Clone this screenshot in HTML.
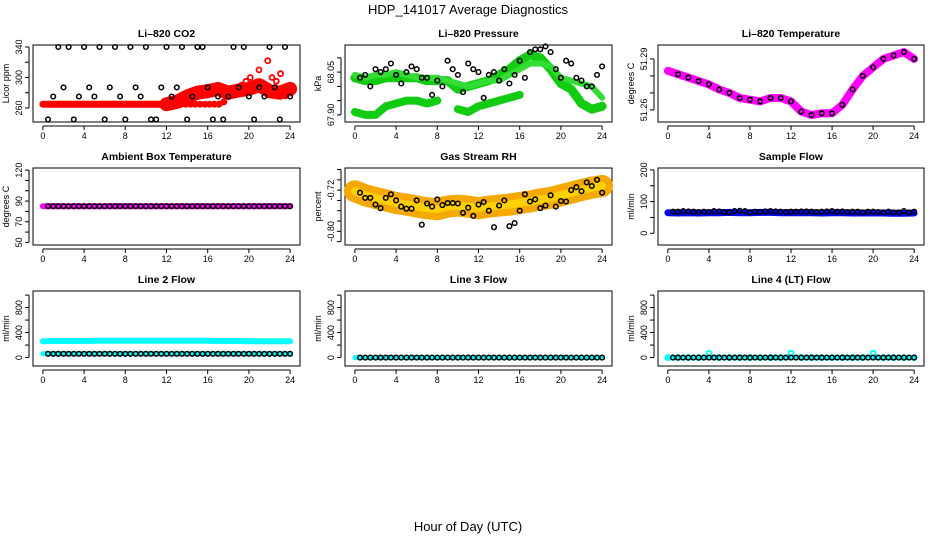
<!DOCTYPE html>
<html><head><meta charset="utf-8"><style>
body{margin:0;background:#fff}
svg{display:block;font-family:"Liberation Sans",sans-serif}
</style></head><body>
<svg id="c" width="936" height="540" viewBox="0 0 936 540"></svg>
<script>
const hours = [0,1,2,3,4,5,6,7,8,9,10,11,12,13,14,15,16,17,18,19,20,21,22,23,24];
const xTicks = [0,4,8,12,16,20,24];
// CO2
const co2Red = [265,265,265,265,265,265,265,265,265,265,265,265,265,268,275,280,282,285,280,283,285,290,282,280,285,278,276];
const co2RedHigh = [null,null,null,null,null,null,null,null,null,null,null,null,null,null,285,290,295,300,285,310,292,322,300,295,305,310,300];
const co2Black = [245,275,340,287,340,245,275,340,287,275,340,245,287,340,275,245,340,287,275,340,245,245,287,340,275,287,340,245,275,340,340,287,245,275,245,275,340,287,340,275,245,287,275,340,287,245,340,275];
// Pressure
const presA = [68.03,68.02,68.02,68.03,68.03,68.03,68.03,68.02,68.02,68.02,67.99,68.00,68.01,68.02,68.04,68.06,68.09,68.11,68.10,68.06,68.01,67.99,67.94,67.92,67.93];
const presB = [67.91,67.90,67.90,67.93,67.94,67.95,67.95,67.94,67.95,null,67.92,67.91,67.93,67.94,67.95,67.96,67.97,null,null,null,null,null,null,null,null];
const presC = [68.04,68.03,68.04,68.04,68.05,68.04,68.03,68.03,68.03,68.02,68.01,68.00,68.01,68.02,68.02,68.04,68.06,68.08,68.08,68.07,68.03,68.02,68.01,68.00,67.96];
const presBlack = [68.03,68.04,68.00,68.06,68.05,68.06,68.08,68.04,68.01,68.05,68.07,68.06,68.03,68.03,67.97,68.02,68.00,68.09,68.06,68.04,67.98,68.08,68.06,68.05,67.96,68.04,68.05,68.02,68.06,68.01,68.04,68.09,68.03,68.12,68.13,68.13,68.14,68.12,68.06,68.03,68.09,68.08,68.03,68.02,68.00,68.00,68.04,68.07];
// Temperature
const tempMag = [51.283,51.281,51.279,51.277,51.275,51.272,51.270,51.267,51.266,51.265,51.267,51.267,51.265,51.259,51.257,51.258,51.258,51.263,51.272,51.280,51.285,51.290,51.292,51.294,51.290];
// Ambient
const ambMag = [85,85,85,85,85,85,85,85,85,85,85,85,85,85,85,85,85,85,85,85,85,85,85,85,85];
// RH
const rhOrange = [-0.722,-0.730,-0.735,-0.740,-0.745,-0.748,-0.752,-0.755,-0.757,-0.752,-0.750,-0.752,-0.755,-0.752,-0.750,-0.748,-0.745,-0.742,-0.738,-0.735,-0.730,-0.725,-0.720,-0.715,-0.712];
const rhBlack = [-0.725,-0.735,-0.735,-0.748,-0.755,-0.735,-0.728,-0.740,-0.752,-0.756,-0.756,-0.740,-0.787,-0.746,-0.752,-0.738,-0.749,-0.745,-0.745,-0.746,-0.764,-0.754,-0.770,-0.748,-0.743,-0.760,-0.792,-0.750,-0.740,-0.790,-0.784,-0.760,-0.728,-0.742,-0.738,-0.755,-0.750,-0.730,-0.752,-0.741,-0.742,-0.720,-0.714,-0.722,-0.705,-0.712,-0.700,-0.725];
// Sample flow
const sampBlue = [65,64,65,64,65,65,66,65,65,66,66,65,65,65,65,64,65,65,64,64,64,64,63,63,64];
const sampBlack = [68,68,70,69,68,67,68,67,70,69,67,66,70,71,70,66,68,67,69,70,69,68,67,68,68,69,69,68,67,68,69,70,68,69,67,68,68,66,68,68,67,66,68,66,66,70,65,68];
// Flows
const l2Cyan = [260,265,265,265,265,268,268,268,268,268,268,268,268,268,268,268,268,265,265,265,262,262,262,262,262];
const l2Black = [60,60,60,60,60,60,60,60,60,60,60,60,60,60,60,60,60,60,60,60,60,60,60,60,60,60,60,60,60,60,60,60,60,60,60,60,60,60,60,60,60,60,60,60,60,60,60,60];
const l3Cyan = [0,0,0,0,0,0,0,0,0,0,0,0,0,0,0,0,0,0,0,0,0,0,0,0,0];
const l3Black = [0,0,0,0,0,0,0,0,0,0,0,0,0,0,0,0,0,0,0,0,0,0,0,0,0,0,0,0,0,0,0,0,0,0,0,0,0,0,0,0,0,0,0,0,0,0,0,0];
const l4Cyan = [0,0,0,0,70,0,0,0,0,0,0,0,70,0,0,0,0,0,0,0,70,0,0,0,0];
const l4Black = l3Black;

const NS="http://www.w3.org/2000/svg";
const svg=document.getElementById('c');
function mk(tag,attrs,parent){const e=document.createElementNS(NS,tag);for(const k in attrs)e.setAttribute(k,attrs[k]);(parent||svg).appendChild(e);return e;}
function txt(s,x,y,size,opts,parent){const t=mk('text',Object.assign({x:x,y:y,'font-size':size,'text-anchor':'middle',fill:'#000'},opts||{}),parent);t.textContent=s;return t;}
const blackX=[];for(let i=1;i<=48;i++)blackX.push(i*0.5);
const cols=[[33,300],[345,612],[658,924]];
const rows=[[45,122],[168,245],[291,366]];

function panel(c,r,name,title,ylab,ylim,ticks,labels){
  const g=mk('g',{});
  
  
  const [x0,x1]=cols[c],[y0,y1]=rows[r];
  const sx=h=>x0+(h+0.96)/25.92*(x1-x0);
  const sy=v=>y1-(v-ylim[0])/(ylim[1]-ylim[0])*(y1-y0);
  const t=txt(title,(x0+x1)/2,y0-8,10.5,{'font-weight':'bold'},g);
  
  
  const b=mk('rect',{x:x0,y:y0,width:x1-x0,height:y1-y0,fill:'none',stroke:'#000','stroke-width':1},g);
  
  
  const xa=mk('g',{},g);
  
  
  mk('line',{x1:sx(0),x2:sx(24),y1:y1+4,y2:y1+4,stroke:'#000'},xa);
  xTicks.forEach(h=>{mk('line',{x1:sx(h),x2:sx(h),y1:y1+4,y2:y1+8,stroke:'#000'},xa);txt(String(h),sx(h),y1+17,9,{},xa);});
  const ya=mk('g',{},g);
  
  
  mk('line',{x1:x0-4,x2:x0-4,y1:sy(ticks[0]),y2:sy(ticks[ticks.length-1]),stroke:'#000'},ya);
  ticks.forEach((v,i)=>{const y=sy(v);mk('line',{x1:x0-8,x2:x0-4,y1:y,y2:y,stroke:'#000'},ya);
    if(labels[i]){const tx=x0-11;txt(labels[i],tx,y,9,{transform:`rotate(-90 ${tx} ${y})`},ya);}});
  const yl=txt(ylab,x0-24,(y0+y1)/2,9,{transform:`rotate(-90 ${x0-24} ${(y0+y1)/2})`},g);
  
  
  return {g,sx,sy};
}
function band(p,name,xs,vals,color,w){
  let d='';let pen=false;
  vals.forEach((v,i)=>{if(v===null){pen=false;return;}d+=(pen?'L':'M')+p.sx(xs[i]).toFixed(1)+' '+p.sy(v).toFixed(1)+' ';pen=true;});
  const e=mk('path',{d:d,fill:'none',stroke:color,'stroke-width':w,'stroke-linejoin':'round','stroke-linecap':'round'},p.g);
  
  
}
function pts(p,name,xs,vals,color,r,sw,fill){
  const g=mk('g',{},p.g);
  
  
  vals.forEach((v,i)=>{if(v===null)return;mk('circle',{cx:p.sx(xs[i]).toFixed(1),cy:p.sy(v).toFixed(1),r:r,fill:fill||'none',stroke:color,'stroke-width':sw},g);});
}

let p;
p=panel(0,0,'co2-panel','Li–820 CO2','Licor ppm',[241.6,342.6],[260,280,300,320,340],['260','','300','','340']);
band(p,'co2-red-series',hours,co2Red.slice(0,25),'#f00',7);
band(p,'co2-red-cloud',hours.slice(12),co2Red.slice(12,25),'#f00',14);
pts(p,'co2-red-scatter',hours.map((h,i)=>13+i*0.42),co2RedHigh.slice(0,25),'#f00',2.5,1.8);
pts(p,'co2-red-mid',hours.map((h,i)=>12.5+i*0.46),co2Red.slice(2,27),'#f00',2.5,2,'#f00');
pts(p,'co2-black-points',blackX,co2Black,'#000',2.3,1.5);

p=panel(1,0,'pressure-panel','Li–820 Pressure','kPa',[67.875,68.145],[67.90,67.95,68.00,68.05,68.10],['67.90','','','68.05','']);
band(p,'pressure-band-a',hours,presA,'#1c1',9);
band(p,'pressure-band-b',hours,presB,'#1c1',8);
band(p,'pressure-band-c',hours,presC,'#3d3',6);
pts(p,'pressure-black-points',blackX,presBlack,'#000',2.3,1.5);

p=panel(2,0,'temperature-panel','Li–820 Temperature','degrees C',[51.2529,51.2982],[51.26,51.27,51.28,51.29],['51.26','','','51.29']);
band(p,'temperature-magenta',hours,tempMag,'#f0f',8);
pts(p,'temperature-black-points',hours.slice(1),tempMag.slice(1),'#000',2.3,1.5);

p=panel(0,1,'ambient-panel','Ambient Box Temperature','degrees C',[47.5,122],[50,60,70,80,90,100,110,120],['50','','70','','90','','','120']);
band(p,'ambient-magenta',hours,ambMag,'#f0f',6);
pts(p,'ambient-black-points',blackX,blackX.map(()=>85),'#000',2.3,1.5);

p=panel(1,1,'rh-panel','Gas Stream RH','percent',[-0.8265,-0.677],[-0.82,-0.80,-0.78,-0.76,-0.74,-0.72,-0.70,-0.68],['','-0.80','','','','-0.72','','']);
band(p,'rh-orange-cloud',hours,rhOrange,'#f5a800',22);
band(p,'rh-yellow-cloud',hours,rhOrange,'#ffd000',8);
pts(p,'rh-black-points',blackX,rhBlack,'#000',2.3,1.5);

p=panel(2,1,'sample-flow-panel','Sample Flow','ml/min',[-37,206],[0,50,100,150,200],['0','','100','','200']);
band(p,'sample-blue',hours,sampBlue,'#00f',7);
pts(p,'sample-black-points',blackX,sampBlack,'#000',2.3,1.5);

const flowTicks=[0,200,400,600,800,1000],flowLab=['0','','400','','800',''];
p=panel(0,2,'line2-panel','Line 2 Flow','ml/min',[-135,1065],flowTicks,flowLab);
band(p,'line2-cyan',hours,l2Cyan,'#0ff',6);
band(p,'line2-cyan-low',hours,hours.map(()=>60),'#0ff',5);
pts(p,'line2-black-points',blackX,l2Black,'#000',2.3,1.5);

p=panel(1,2,'line3-panel','Line 3 Flow','ml/min',[-135,1065],flowTicks,flowLab);
band(p,'line3-cyan',hours,l3Cyan,'#0ff',5);
pts(p,'line3-black-points',blackX,l3Black,'#000',2.3,1.5);

p=panel(2,2,'line4-panel','Line 4 (LT) Flow','ml/min',[-135,1065],flowTicks,flowLab);
band(p,'line4-cyan',hours,hours.map(()=>0),'#0ff',5);
pts(p,'line4-cyan-points',hours,l4Cyan,'#0ff',2.5,2);
pts(p,'line4-black-points',blackX,l4Black,'#000',2.3,1.5);

const mt=txt('HDP_141017  Average Diagnostics',468,14,13,{'xml:space':'preserve'});


const xt=txt('Hour of Day (UTC)',468,531,13);


</script>
</body></html>
